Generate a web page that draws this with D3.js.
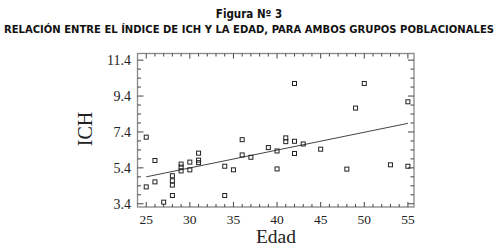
<!DOCTYPE html>
<html><head><meta charset="utf-8">
<script src="https://cdn.jsdelivr.net/npm/d3@7"></script>
<style>body{margin:0;background:#fff}svg{display:block}</style>
</head><body>
<svg id="c" width="499" height="247"></svg>
<script>
const titleLines = ["Figura Nº 3", "RELACIÓN ENTRE EL ÍNDICE DE ICH Y LA EDAD, PARA AMBOS GRUPOS POBLACIONALES"];
const xLabel = "Edad";
const yLabel = "ICH";
const xTicks = [25, 30, 35, 40, 45, 50, 55];
const yTicks = [3.4, 5.4, 7.4, 9.4, 11.4];
const edad = [25, 25, 26, 26, 27, 28, 28, 28, 28, 29, 29, 29, 30, 30, 31, 31, 31, 34, 34, 35, 36, 36, 37, 39, 40, 40, 41, 41, 42, 42, 42, 43, 45, 48, 49, 50, 53, 55, 55];
const ich  = [7.11, 4.34, 5.81, 4.62, 3.49, 4.96, 4.68, 4.44, 3.86, 5.61, 5.44, 5.23, 5.72, 5.29, 6.22, 5.83, 5.69, 5.49, 3.86, 5.29, 6.97, 6.12, 5.99, 6.53, 6.34, 5.34, 7.07, 6.86, 10.1, 6.88, 6.2, 6.73, 6.44, 5.33, 8.73, 10.1, 5.57, 9.08, 5.49];
const fitRange = [25, 55];
const fitIntercept = 4.9;   // value at Edad = 25
const fitSlope = 0.0993;

const svg = d3.select("#c");
const L = 137.5, R = 414, T = 53.5, B = 207;
const x = d3.scaleLinear().domain([24, 55.7]).range([L, R]);
const y = d3.scaleLinear().domain([3.22, 11.77]).range([B, T]);

// titles
svg.append("text").attr("x", 249).attr("y", 18).attr("text-anchor", "middle")
  .attr("font-family", "DejaVu Sans Condensed, DejaVu Sans").attr("font-weight", "bold")
  .attr("font-size", 11.5).attr("fill", "#111").text(titleLines[0]);
svg.append("text").attr("x", 4).attr("y", 32.5)
  .attr("font-family", "DejaVu Sans Condensed, DejaVu Sans").attr("font-weight", "bold")
  .attr("font-size", 11).attr("fill", "#111")
  .attr("textLength", 490).attr("lengthAdjust", "spacingAndGlyphs").text(titleLines[1]);

// frame
svg.append("rect").attr("x", L).attr("y", T).attr("width", R - L).attr("height", B - T)
  .attr("fill", "none").attr("stroke", "#888").attr("stroke-width", 1.3);

const tickCol = "#444";
const xMinor = d3.range(25, 56, 1);
const g = svg.append("g").attr("stroke", tickCol).attr("stroke-width", 1);
xMinor.forEach(v => {
  const major = xTicks.includes(v);
  const len = major ? 5 : 3;
  g.append("line").attr("x1", x(v)).attr("x2", x(v)).attr("y1", B).attr("y2", B - len);
  g.append("line").attr("x1", x(v)).attr("x2", x(v)).attr("y1", T).attr("y2", T + len);
});
const yMinor = d3.range(0, 17).map(i => 3.4 + i * 0.5);
yMinor.forEach(v => {
  const major = yTicks.some(t => Math.abs(t - v) < 1e-6);
  const len = major ? 6 : 3.5;
  g.append("line").attr("x1", L).attr("x2", L + len).attr("y1", y(v)).attr("y2", y(v));
  g.append("line").attr("x1", R).attr("x2", R - len).attr("y1", y(v)).attr("y2", y(v));
});

// tick labels
svg.append("g").selectAll("text").data(xTicks).join("text")
  .attr("x", d => x(d)).attr("y", 223.5).attr("text-anchor", "middle")
  .attr("font-family", "Liberation Serif, serif").attr("font-size", 13.5).attr("fill", "#222")
  .text(d => d);
svg.append("g").selectAll("text").data(yTicks).join("text")
  .attr("x", 131).attr("y", d => y(d) + 4.8).attr("text-anchor", "end")
  .attr("font-family", "Liberation Serif, serif").attr("font-size", 14).attr("fill", "#222")
  .text(d => d.toFixed(1));

// axis titles
svg.append("text").attr("x", 276).attr("y", 243).attr("text-anchor", "middle")
  .attr("font-family", "Liberation Serif, serif").attr("font-size", 19.5).attr("fill", "#222").text(xLabel);
svg.append("text").attr("transform", "translate(92,129) rotate(-90)").attr("text-anchor", "middle")
  .attr("font-family", "Liberation Serif, serif").attr("font-size", 20).attr("fill", "#222").text(yLabel);

// regression line
const line = d3.line().x(d => x(d)).y(d => y(fitIntercept + fitSlope * (d - fitRange[0])));
svg.append("path").attr("d", line(fitRange)).attr("fill", "none").attr("stroke", "#444").attr("stroke-width", 1);

// points
const s = 4;
svg.append("g").selectAll("rect").data(edad.map((e, i) => [e, ich[i]])).join("rect")
  .attr("x", d => x(d[0]) - s / 2).attr("y", d => y(d[1]) - s / 2)
  .attr("width", s).attr("height", s)
  .attr("fill", "none").attr("stroke", "#222").attr("stroke-width", 1);
</script>
</body></html>
